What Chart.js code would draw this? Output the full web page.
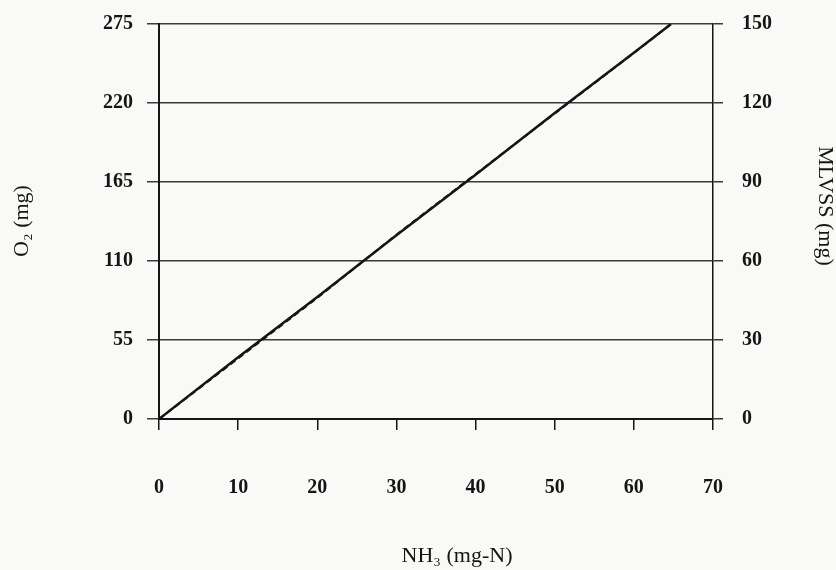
<!DOCTYPE html>
<html>
<head>
<meta charset="utf-8">
<script src="https://cdn.jsdelivr.net/npm/chart.js@4/dist/chart.umd.min.js"></script>
<style>
  html, body { margin: 0; padding: 0; background: #f9f9f8; }
  #wrap { width: 836px; height: 570px; position: relative; }
</style>
</head>
<body>
<div id="wrap"><canvas id="line-chart"></canvas></div>
<script>
// NH3 consumed (mg-N), O2 demand (mg), MLVSS produced (mg)
var nh3 = [0, 10, 20, 30, 40, 50, 60, 64.7]
var o2 = [0, 43, 85, 128, 170, 213, 255, 275]
var mlvss = [0, 23, 46, 70, 93, 116, 139, 150]

var xTicks = [0, 10, 20, 30, 40, 50, 60, 70]
var o2Ticks = [0, 55, 110, 165, 220, 275]
var mlvssTicks = [0, 30, 60, 90, 120, 150]

var ink = "#151515"
var serif = "'Liberation Serif', 'DejaVu Serif', serif"
var tickFont = { family: serif, size: 20, weight: 'bold' }

function toPoints(xs, ys) {
    var pts = []
    for (var i = 0; i < xs.length; i++) {
        pts.push({x: xs[i], y: ys[i]})
    }
    return pts
}

// axis titles drawn at the spots they sit in the original figure
var axisTitles = {
    id: 'axisTitles',
    afterDraw: function(chart) {
        var ctx = chart.ctx
        ctx.save()
        ctx.fillStyle = ink
        ctx.font = "22px " + serif
        ctx.textAlign = 'center'
        ctx.textBaseline = 'middle'

        ctx.fillText("NH\u2083 (mg-N)", 457, 556)

        ctx.save()
        ctx.translate(22, 221)
        ctx.rotate(-Math.PI / 2)
        ctx.fillText("O\u2082 (mg)", 0, 0)
        ctx.restore()

        ctx.save()
        ctx.translate(825, 206)
        ctx.rotate(Math.PI / 2)
        ctx.fillText("MLVSS (mg)", 0, 0)
        ctx.restore()

        ctx.restore()
    }
}

function noPad(axis) {
    axis.paddingTop = 0
    axis.paddingBottom = 0
}

new Chart(document.getElementById("line-chart"), {
    type: 'scatter',
    data: {
        datasets: [{
            label: "O2",
            data: toPoints(nh3, o2),
            yAxisID: 'y',
            showLine: true,
            borderColor: ink,
            borderWidth: 2.5,
            pointRadius: 0,
            fill: false
        },
        {
            label: "MLVSS",
            data: toPoints(nh3, mlvss),
            yAxisID: 'y2',
            showLine: true,
            borderColor: ink,
            borderWidth: 2,
            borderDash: [6, 4],
            pointRadius: 0,
            fill: false
        }]
    },
    options: {
        responsive: true,
        maintainAspectRatio: false,
        animation: false,
        layout: { padding: { top: 24, left: 0, right: 0, bottom: 0 } },
        plugins: {
            legend: { display: false },
            tooltip: { enabled: false }
        },
        scales: {
            x: {
                type: 'linear',
                position: 'bottom',
                min: 0,
                max: 70,
                afterBuildTicks: function(axis) {
                    axis.ticks = xTicks.map(function(v) { return {value: v} })
                },
                afterFit: function(axis) {
                    axis.height = 151
                    axis.paddingLeft = 0
                    axis.paddingRight = 0
                },
                grid: { drawOnChartArea: false, drawTicks: true, tickLength: 11, color: ink, lineWidth: 1.5 },
                border: { color: ink, width: 2 },
                ticks: { color: ink, font: tickFont, padding: 46 }
            },
            y: {
                type: 'linear',
                position: 'left',
                min: 0,
                max: 275,
                afterBuildTicks: function(axis) {
                    axis.ticks = o2Ticks.map(function(v) { return {value: v} })
                },
                afterFit: function(axis) {
                    axis.width = 159
                    noPad(axis)
                },
                grid: { drawOnChartArea: true, drawTicks: true, tickLength: 12, color: "#3a3a3a", lineWidth: 1.5 },
                border: { color: ink, width: 2 },
                ticks: { color: ink, font: tickFont, padding: 14 }
            },
            y2: {
                type: 'linear',
                position: 'right',
                min: 0,
                max: 150,
                afterBuildTicks: function(axis) {
                    axis.ticks = mlvssTicks.map(function(v) { return {value: v} })
                },
                afterFit: function(axis) {
                    axis.width = 123
                    noPad(axis)
                },
                grid: { drawOnChartArea: false, drawTicks: true, tickLength: 10, color: "#3a3a3a", lineWidth: 1.5 },
                border: { color: ink, width: 1.5 },
                ticks: { color: ink, font: tickFont, padding: 19 }
            }
        }
    },
    plugins: [axisTitles]
});
</script>
</body>
</html>
